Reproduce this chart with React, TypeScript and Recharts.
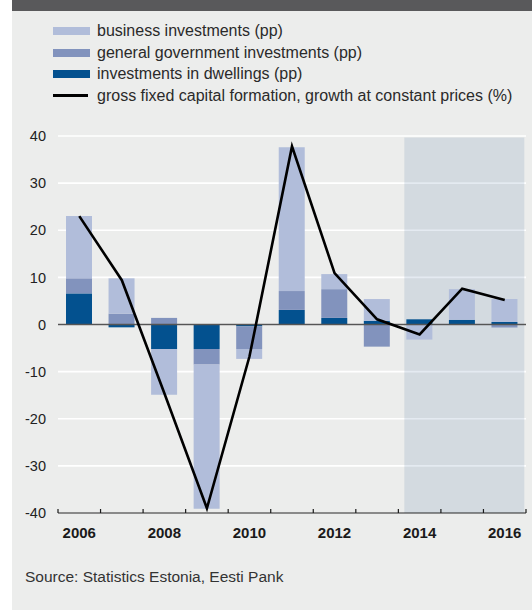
import React from 'react';
import {
  ComposedChart,
  Bar,
  Line,
  XAxis,
  YAxis,
  CartesianGrid,
  ReferenceArea,
  ReferenceLine,
  Legend,
} from 'recharts';

// ---------- data ----------
const years = [2006, 2007, 2008, 2009, 2010, 2011, 2012, 2013, 2014, 2015, 2016];
const dwellings = [6.6, -0.6, -5.2, -5.2, -0.4, 3.1, 1.4, 0.8, 1.1, 1.0, 0.55];
const government = [3.2, 2.3, 1.4, -3.3, -4.8, 4.0, 6.1, -4.7, 0, 0, -0.65];
const business = [13.2, 7.5, -9.7, -30.6, -2.1, 30.5, 3.2, 4.6, -3.2, 6.5, 4.85];
const gfcfGrowth = [23.0, 9.4, -14.6, -39.0, -6.8, 37.8, 10.9, 1.1, -2.1, 7.6, 5.2];
const yTicks = [-40, -30, -20, -10, 0, 10, 20, 30, 40];
const labelYears = [2006, 2008, 2010, 2012, 2014, 2016];
const forecastFrom = 8.14; // x-scale position (year index units) where the shaded forecast begins
const forecastTo = 10.96;

const seriesNames = {
  business: 'business investments (pp)',
  government: 'general government investments (pp)',
  dwellings: 'investments in dwellings (pp)',
  growth: 'gross fixed capital formation, growth at constant prices (%)',
};
const legendOrder = [seriesNames.business, seriesNames.government, seriesNames.dwellings, seriesNames.growth];
const sourceText = 'Source: Statistics Estonia, Eesti Pank';

const colors = {
  business: '#b1bdda',
  government: '#8293bd',
  dwellings: '#03518f',
  line: '#000000',
};

const data = years.map((year, i) => ({
  x: i + 0.5,
  year,
  dwellings: dwellings[i],
  government: government[i],
  business: business[i],
  growth: gfcfGrowth[i],
}));

const xTicks: number[] = [];
for (let i = 0; i <= years.length; i++) {
  xTicks.push(i);
  if (i < years.length) xTicks.push(i + 0.5);
}

const FONT = '"Liberation Sans", Arial, Helvetica, sans-serif';

const XTick = (props: any) => {
  const { x, y, payload } = props;
  const v = payload.value as number;
  if (Math.abs(v - Math.round(v)) < 1e-6) {
    return <line x1={x} x2={x} y1={y} y2={y - 4} stroke="#1a1a1a" strokeWidth={1.2} />;
  }
  const yr = years[Math.floor(v)];
  if (!labelYears.includes(yr)) return <g />;
  return (
    <text x={x} y={y + 25} textAnchor="middle" fontWeight="bold" fontSize={15} fill="#1a1a1a" fontFamily={FONT}>
      {yr}
    </text>
  );
};

const LegendContent = (props: any) => {
  const payload = (props.payload || []).slice();
  payload.sort((a: any, b: any) => legendOrder.indexOf(a.value) - legendOrder.indexOf(b.value));
  return (
    <div style={{ fontFamily: FONT, fontSize: 16, color: '#2a2a2a' }}>
      {payload.map((p: any) => (
        <div key={p.value} style={{ height: 21.7, lineHeight: '21.7px', display: 'flex', alignItems: 'center', whiteSpace: 'nowrap' }}>
          {p.type === 'line' ? (
            <span style={{ display: 'inline-block', width: 35, height: 3, background: p.color, marginRight: 9 }} />
          ) : (
            <span style={{ display: 'inline-block', width: 37, height: 8, background: p.color, marginRight: 7 }} />
          )}
          <span>{p.value}</span>
        </div>
      ))}
    </div>
  );
};

export default function App() {
  return (
    <div style={{ position: 'absolute', left: 0, top: 0, width: 532, height: 610, background: '#ffffff', overflow: 'hidden' }}>
      <div style={{ position: 'absolute', left: 12, top: 0, width: 520, height: 610, background: '#ecedec' }} />
      <div style={{ position: 'absolute', left: 12, top: 0, width: 520, height: 11, background: '#59595b' }} />
      <div style={{ position: 'absolute', left: 0, top: 0 }}>
        <ComposedChart
          width={532}
          height={560}
          data={data}
          stackOffset="sign"
          margin={{ top: 136, right: 6, bottom: 17, left: 0 }}
        >
          <CartesianGrid horizontal vertical={false} stroke="#ffffff" strokeWidth={1.6} />
          <XAxis
            dataKey="x"
            type="number"
            domain={[0, years.length]}
            ticks={xTicks}
            interval={0}
            tick={<XTick />}
            tickLine={false}
            tickSize={0}
            tickMargin={0}
            axisLine={{ stroke: '#1a1a1a', strokeWidth: 1.2 }}
            height={30}
            allowDecimals
          />
          <YAxis
            type="number"
            domain={[-40, 40]}
            ticks={yTicks}
            interval={0}
            width={58}
            axisLine={false}
            tickLine={false}
            tickSize={0}
            tickMargin={12}
            tick={{ fontSize: 14.5, fill: '#222222', fontFamily: FONT }}
          />
          <Legend
            layout="horizontal"
            verticalAlign="middle"
            align="center"
            wrapperStyle={{ top: 20, left: 53, width: 478 }}
            content={<LegendContent />}
          />
          <Bar dataKey="dwellings" name={seriesNames.dwellings} stackId="a" fill={colors.dwellings} barSize={26} isAnimationActive={false} legendType="rect" />
          <Bar dataKey="government" name={seriesNames.government} stackId="a" fill={colors.government} barSize={26} isAnimationActive={false} legendType="rect" />
          <Bar dataKey="business" name={seriesNames.business} stackId="a" fill={colors.business} barSize={26} isAnimationActive={false} legendType="rect" />
          <ReferenceArea x1={forecastFrom} x2={forecastTo} y1={-40} y2={39.7} fill="#2c5f96" fillOpacity={0.13} stroke="none" ifOverflow="hidden" />
          <ReferenceLine y={0} stroke="#555555" strokeWidth={1.5} />
          <Line
            type="linear"
            dataKey="growth"
            name={seriesNames.growth}
            stroke={colors.line}
            strokeWidth={2.6}
            dot={false}
            activeDot={false}
            isAnimationActive={false}
            legendType="line"
          />
        </ComposedChart>
      </div>
      <div style={{ position: 'absolute', left: 25, top: 568, fontFamily: FONT, fontSize: 15.5, color: '#333333', whiteSpace: 'nowrap' }}>
        {sourceText}
      </div>
    </div>
  );
}
